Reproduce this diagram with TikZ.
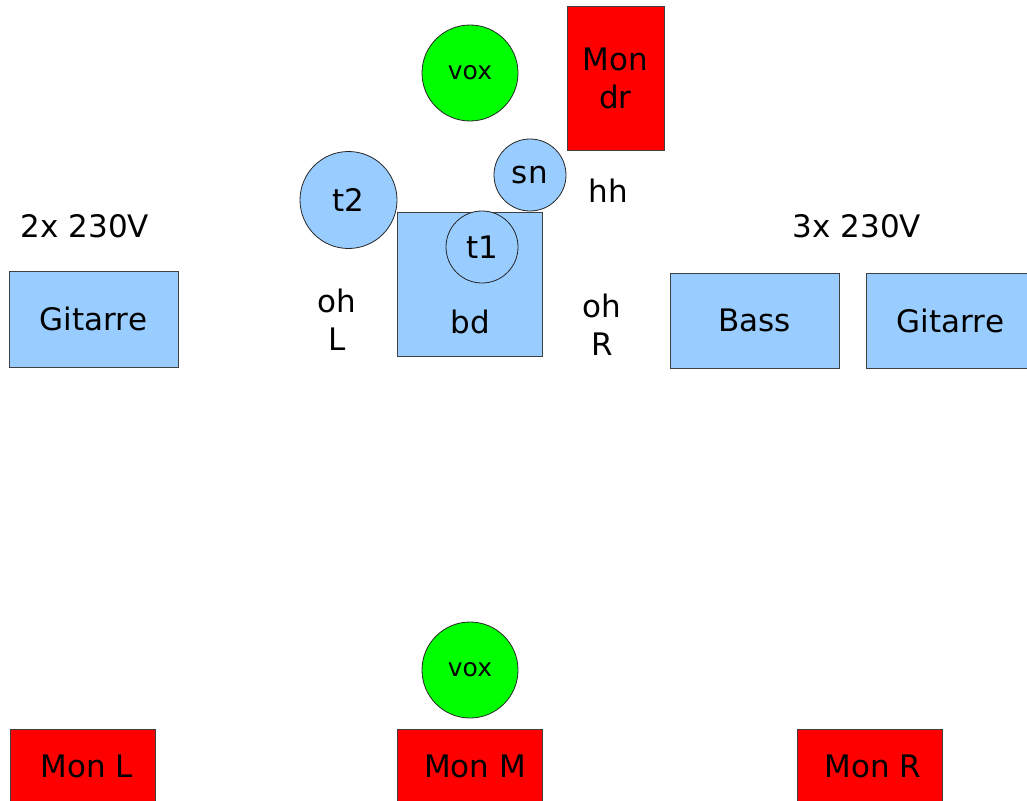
\documentclass[tikz,border=0pt]{standalone}
\usepackage{fontspec}
\setmainfont{DejaVu Sans}
\definecolor{lblue}{HTML}{99CCFF}
\definecolor{vgreen}{HTML}{00FF00}
\definecolor{mred}{HTML}{FF0000}
\begin{document}
\begin{tikzpicture}[x=1pt,y=-1pt,
  big/.style={font=\fontsize{31}{38}\selectfont},
  small/.style={font=\fontsize{25}{30}\selectfont},
  box/.style={draw=black!75,line width=0.8pt,fill=lblue,rectangle,inner sep=0pt,big},
  mon/.style={draw=black!75,line width=0.8pt,fill=mred,rectangle,inner sep=0pt,big,align=center},
  drum/.style={draw=black!85,line width=0.8pt,fill=lblue,circle,inner sep=0pt,big},
  voxc/.style={draw=black!85,line width=0.8pt,fill=vgreen,circle,inner sep=0pt,minimum size=96pt,small},
  lbl/.style={inner sep=0pt,big,align=center}]
\useasboundingbox (0,0) rectangle (1027,800);
\clip (0,0) rectangle (1027,800);
% drums
\node[voxc] (voxtop) at (470,73) {vox};
\node[mon,minimum width=97pt,minimum height=144pt] (mondr) at (615.5,78) {Mon\\dr};
\node[box,minimum width=145pt,minimum height=144pt] (bd) at (469.5,284) {};
\node[big] at (470,322) {bd};
\node[drum,minimum size=72pt] (sn) at (530,175) {s\kern1pt n};
\node[drum,minimum size=97pt] (t2) at (348.5,200) {t2};
\node[drum,minimum size=72pt] (t1) at (482,247) {t1};
\node[lbl] (hh) at (608,191) {hh};
\node[lbl] (ohL) at (337,320) {oh\\L};
\node[lbl] (ohR) at (602,325) {oh\\R};
% power
\node[lbl] (pL) at (85,226) {2x 230V};
\node[lbl] (pR) at (857,226) {3x 230V};
% amps
\node[box,minimum width=169pt,minimum height=96pt] (gitL) at (93.5,319) {Gitarre};
\node[box,minimum width=169pt,minimum height=95pt] (bass) at (754.5,320.5) {Bass};
\node[box,minimum width=169pt,minimum height=95pt] (gitR) at (950.5,320.5) {Gitarre};
% front
\node[voxc] (voxbot) at (470,670) {vox};
\node[mon,minimum width=145pt,minimum height=90pt] (monL) at (82.5,774) {};
\node[big] at (87,766) {Mon L};
\node[mon,minimum width=145pt,minimum height=90pt] (monM) at (469.5,774) {};
\node[big] at (475,766) {Mon M};
\node[mon,minimum width=145pt,minimum height=90pt] (monR) at (869.5,774) {};
\node[big] at (873,766) {Mon R};
\end{tikzpicture}
\end{document}
